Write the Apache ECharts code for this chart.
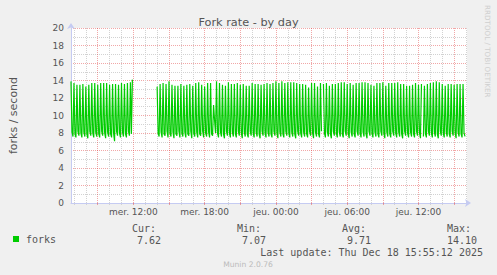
<!DOCTYPE html>
<html><head><meta charset="utf-8">
<script src="https://cdn.jsdelivr.net/npm/echarts@6/dist/echarts.min.js"></script>
<style>html,body{margin:0;padding:0;background:#f0f0f0}#c{width:497px;height:275px}</style>
</head><body><div id="c"></div>
<script>
// ---- data ----
const titleText = 'Fork rate - by day';
const seriesName = 'forks';
const yAxisName = 'forks / second';
const startHour = 6.75;        // Wed 06:45 (hours since Wed 00:00)
const stepHours = 5 / 60;      // one sample every 5 minutes
const forkRate = [
  13.9,8.1,7.6, 13.7,7.9,7.5, 13.5,8.2,7.7, 13.5,8.0,7.5, 13.6,8.1,7.6, 13.3,7.9,7.4, 13.5,8.2,7.7,
  13.7,8.0,7.5, 13.7,8.1,7.6, 13.5,7.9,7.5, 13.7,8.2,7.7, 13.7,8.0,7.4, 13.7,8.1,7.6, 13.5,7.9,7.5,
  13.6,8.0,7.07, 13.6,8.2,7.7, 13.5,8.0,7.5, 13.7,8.1,7.6, 13.6,7.9,7.5, 13.7,8.2,7.7, 13.8,7.9,14.1,
  null,null,null,null,null,null,null,null,null,null,null,null,
  null,null,null,null,null,null,null,null,null,null,null,null,
  13.3,8.0,7.6, 13.6,8.1,7.5, 13.7,7.9,7.7, 13.6,8.2,7.5, 13.9,8.0,7.6, 13.5,8.1,7.4, 13.4,7.9,7.7,
  13.4,8.2,7.5, 13.6,8.0,7.6, 13.4,8.1,7.5, 13.5,7.9,7.7, 13.6,8.2,7.4, 13.4,8.0,7.6, 13.7,8.1,7.5,
  13.8,7.9,7.7, 13.5,8.2,7.5, 13.3,8.0,7.6, 13.7,8.1,7.5, 13.7,7.9,7.7, 11.2,9.5,8.0, 13.9,8.0,7.5,
  13.7,8.1,7.6, 13.5,7.9,7.4, 13.4,8.2,7.7, 13.8,8.0,7.5, 13.6,8.1,7.6, 13.6,7.9,7.5, 13.7,8.2,7.7,
  13.5,8.0,7.4, 13.6,8.1,7.6, 13.4,7.9,7.5, 13.4,8.2,7.7, 13.7,8.0,7.5, 13.6,8.1,7.6, 13.6,7.9,7.4,
  13.5,8.2,7.7, 13.6,8.0,7.5, 13.7,8.1,7.6, 13.6,7.9,7.5, 13.7,8.2,7.7, 13.9,8.0,7.4, 13.7,8.1,7.6,
  13.9,7.9,7.5, 13.7,8.2,7.7, 13.8,8.0,7.5, 13.8,8.1,7.6, 13.8,7.9,7.4, 13.7,8.2,7.7, 13.6,8.0,7.5,
  13.6,8.1,7.6, 13.5,7.9,7.5, 13.2,8.2,7.7, 13.7,8.0,7.4, 13.7,8.1,7.6, 13.3,7.9,7.5, 13.7,8.2,null,
  13.6,8.0,7.5, 13.7,8.1,7.6, 13.4,7.9,7.4, 13.6,8.2,7.7, 13.6,8.0,7.5, 13.7,8.1,7.6, 13.8,7.9,7.5,
  13.8,8.2,7.7, 13.6,8.0,7.4, 13.7,8.1,7.6, 13.5,7.9,7.5, 13.7,8.2,7.7, 13.7,8.0,7.5, 13.8,8.1,7.6,
  13.8,7.9,7.4, 13.7,8.2,7.7, 13.5,8.0,7.5, 13.4,8.1,7.6, 13.7,7.9,7.5, 13.7,8.2,7.7, 13.8,8.0,7.4,
  13.4,8.1,7.6, 13.7,7.9,7.5, 13.7,8.2,7.7, 13.7,8.0,7.5, 13.8,8.1,7.6, 13.6,7.9,7.4, 13.6,8.2,7.7,
  13.4,8.0,7.5, 13.4,8.1,7.6, 13.5,7.9,7.5, 13.7,8.2,7.7, 13.5,8.0,7.4, 13.6,null,7.6, 13.4,7.9,7.5,
  13.6,8.2,7.7, 13.7,8.0,7.5, 13.8,8.1,7.6, 13.9,7.9,7.4, 13.8,8.2,7.7, 13.6,8.0,7.5, 13.4,8.1,7.6,
  13.6,7.9,7.5, 13.6,8.2,7.7, 13.5,8.0,7.4, 13.6,8.1,7.6, 13.6,7.9,7.5, 13.6,8.0,7.62,
  null
];
const xTickHours = [12, 18, 24, 30, 36];
const xTickLabels = ['mer. 12:00', 'mer. 18:00', 'jeu. 00:00', 'jeu. 06:00', 'jeu. 12:00'];
const statLabels = ['Cur:', 'Min:', 'Avg:', 'Max:'];
const statValues = ['7.62', '7.07', '9.71', '14.10'];
const lastUpdate = 'Last update: Thu Dec 18 15:55:12 2025';
const footer = 'Munin 2.0.76';
const sideText = 'RRDTOOL / TOBI OETIKER';

// ---- build ----
const endHour = startHour + forkRate.length * stepHours;
const points = forkRate.map((v, i) => [startHour + i * stepHours, v]);
const majorX = [], minorX = [];
for (let h = Math.ceil(startHour); h <= endHour; h++) {
  if (h % 3 === 0) majorX.push(h); else minorX.push(h);
}
const MONO = '"DejaVu Sans Mono", monospace';
const SANS = '"DejaVu Sans", sans-serif';
const AXIS_COLOR = '#c5cbf2';
const RED_GRID = 'rgba(225,60,60,0.45)';
const GRAY_GRID = '#d2d2d2';

const chart = echarts.init(document.getElementById('c'), null, {renderer: 'svg'});
const statX = [132, 237, 342, 447];
const statRight = [161, 266, 371, 477];
const graphics = [];
statLabels.forEach((t, i) => graphics.push({type: 'text', x: statX[i], y: 228.5,
  style: {text: t, font: '10px ' + MONO, fill: '#555', align: 'left', verticalAlign: 'middle'}}));
statValues.forEach((t, i) => graphics.push({type: 'text', x: statRight[i], y: 240,
  style: {text: t, font: '10px ' + MONO, fill: '#555', align: 'right', verticalAlign: 'middle'}}));
graphics.push({type: 'text', x: 483, y: 252,
  style: {text: lastUpdate, font: '10px ' + MONO, fill: '#555', align: 'right', verticalAlign: 'middle'}});
graphics.push({type: 'text', x: 248, y: 264,
  style: {text: footer, font: '7.6px ' + SANS, fill: '#bbb', align: 'center', verticalAlign: 'middle'}});
graphics.push({type: 'text', x: 487, y: 5, rotation: -Math.PI / 2,
  style: {text: sideText, font: '7.2px ' + SANS, fill: '#cfcfcf', align: 'left', verticalAlign: 'middle'}});

chart.setOption({
  animation: false,
  backgroundColor: '#f0f0f0',
  title: {text: titleText, left: 'center', top: 12,
    textStyle: {fontFamily: SANS, fontSize: 11.3, fontWeight: 'normal', color: '#555'}},
  legend: {left: 13, top: 234, padding: 0, icon: 'rect', itemWidth: 6, itemHeight: 6, itemGap: 0,
    textStyle: {fontFamily: MONO, fontSize: 10, color: '#555', padding: [0, 0, 0, 2]},
    data: [seriesName]},
  grid: {left: 67, top: 28, width: 400, height: 175, show: true, backgroundColor: '#fff', borderWidth: 0},
  xAxis: [
    {type: 'value', min: startHour, max: endHour, gridIndex: 0, position: 'bottom', z: 3,
      axisLine: {show: true, lineStyle: {color: AXIS_COLOR}, symbol: ['none', 'arrow'], symbolSize: [6, 6], symbolOffset: [0, 4]},
      axisTick: {show: true, length: 2, lineStyle: {color: RED_GRID}, customValues: majorX},
      axisLabel: {customValues: xTickHours, margin: 4, fontFamily: SANS, fontSize: 9, color: '#555',
        formatter: v => xTickLabels[xTickHours.indexOf(v)] || ''},
      splitLine: {show: true, lineStyle: {color: RED_GRID, type: [1, 1], width: 1}}},
    {type: 'value', min: startHour, max: endHour, gridIndex: 0, position: 'bottom', z: 2,
      axisLine: {show: false}, axisLabel: {show: false},
      axisTick: {show: true, length: 2, lineStyle: {color: GRAY_GRID}, customValues: minorX},
      splitLine: {show: true, lineStyle: {color: GRAY_GRID, type: [1, 1], width: 1}}}
  ],
  yAxis: {type: 'value', min: 0, max: 20, interval: 2,
    name: yAxisName, nameLocation: 'middle', nameGap: 52, nameRotate: 90,
    nameTextStyle: {fontFamily: SANS, fontSize: 11, color: '#555'},
    axisLine: {show: true, lineStyle: {color: AXIS_COLOR}, symbol: ['none', 'arrow'], symbolSize: [6, 6], symbolOffset: [0, 5]},
    axisTick: {show: false},
    axisLabel: {margin: 7, fontFamily: SANS, fontSize: 9, color: '#555'},
    splitLine: {show: true, lineStyle: {color: RED_GRID, type: [1, 1]}},
    minorTick: {show: true, splitNumber: 2, length: 0},
    minorSplitLine: {show: true, lineStyle: {color: GRAY_GRID, type: [1, 1]}}},
  graphic: graphics,
  series: [{
    name: seriesName, type: 'line', xAxisIndex: 0, data: points,
    showSymbol: false, symbol: 'none', sampling: null, connectNulls: false,
    lineStyle: {color: '#00cc00', width: 1.2}, itemStyle: {color: '#00cc00'}, z: 5
  }]
});
</script></body></html>
